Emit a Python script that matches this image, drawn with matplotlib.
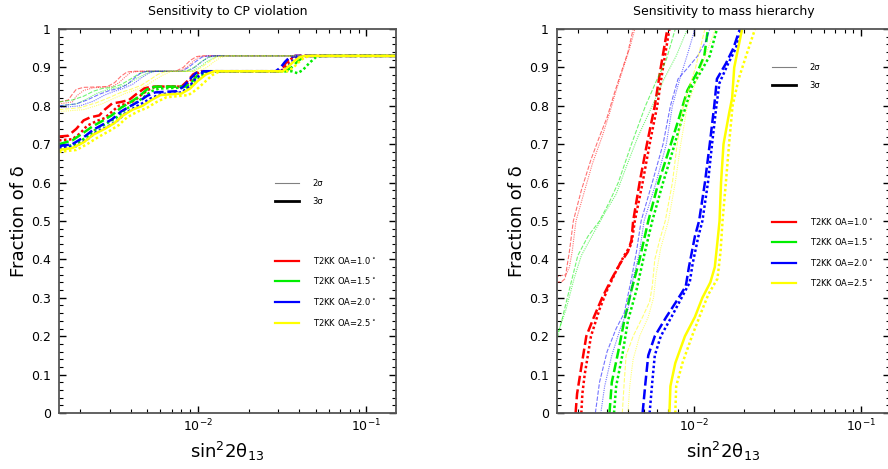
import matplotlib
matplotlib.use("Agg")
import matplotlib.pyplot as plt
from matplotlib.lines import Line2D
from matplotlib.ticker import LogLocator, MultipleLocator, FixedLocator, FixedFormatter

# ---- data: (sin^2 2theta13, fraction of delta) ----
# left panel: sensitivity to CP violation
cp_red_2s_a = [(0.0015, 0.81), (0.0017, 0.815), (0.0018, 0.83), (0.0019, 0.843), (0.0021, 0.848), (0.0029, 0.85), (0.0032, 0.86), (0.0035, 0.877), (0.0038, 0.888), (0.0042, 0.89), (0.0074, 0.89), (0.0082, 0.90), (0.0090, 0.918), (0.0098, 0.928), (0.0105, 0.93), (0.15, 0.93)]
cp_red_2s_b = [(0.0015, 0.805), (0.0018, 0.81), (0.0019, 0.825), (0.0021, 0.84), (0.0024, 0.847), (0.0031, 0.85), (0.0034, 0.86), (0.0037, 0.875), (0.0040, 0.887), (0.0045, 0.89), (0.0078, 0.89), (0.0086, 0.90), (0.0095, 0.918), (0.0103, 0.928), (0.011, 0.93), (0.15, 0.93)]
cp_green_2s_a = [(0.0015, 0.81), (0.0018, 0.815), (0.0021, 0.825), (0.0024, 0.838), (0.0027, 0.845), (0.0031, 0.848), (0.0035, 0.855), (0.0040, 0.87), (0.0045, 0.884), (0.0050, 0.89), (0.0085, 0.89), (0.0095, 0.90), (0.0105, 0.915), (0.0115, 0.926), (0.0125, 0.93), (0.15, 0.93)]
cp_green_2s_b = [(0.0015, 0.80), (0.0019, 0.805), (0.0022, 0.818), (0.0025, 0.832), (0.0029, 0.842), (0.0034, 0.848), (0.0038, 0.856), (0.0043, 0.87), (0.0049, 0.883), (0.0055, 0.89), (0.0092, 0.89), (0.0102, 0.90), (0.0113, 0.915), (0.0125, 0.926), (0.0135, 0.93), (0.15, 0.93)]
cp_blue_2s_a = [(0.0015, 0.80), (0.0019, 0.805), (0.0022, 0.815), (0.0026, 0.83), (0.0030, 0.84), (0.0034, 0.845), (0.0038, 0.855), (0.0042, 0.872), (0.0046, 0.886), (0.0050, 0.89), (0.0080, 0.89), (0.0088, 0.90), (0.0097, 0.915), (0.0106, 0.927), (0.0115, 0.93), (0.15, 0.93)]
cp_blue_2s_b = [(0.0015, 0.795), (0.0020, 0.80), (0.0024, 0.812), (0.0028, 0.828), (0.0032, 0.838), (0.0036, 0.845), (0.0041, 0.856), (0.0046, 0.872), (0.0051, 0.885), (0.0056, 0.89), (0.0087, 0.89), (0.0096, 0.90), (0.0106, 0.915), (0.0116, 0.927), (0.0126, 0.93), (0.15, 0.93)]
cp_yellow_2s_a = [(0.0015, 0.79), (0.0020, 0.795), (0.0025, 0.808), (0.0030, 0.822), (0.0035, 0.835), (0.0040, 0.843), (0.0046, 0.853), (0.0052, 0.868), (0.0058, 0.882), (0.0065, 0.89), (0.0095, 0.89), (0.0105, 0.90), (0.0117, 0.915), (0.0128, 0.926), (0.014, 0.93), (0.15, 0.93)]
cp_yellow_2s_b = [(0.0015, 0.785), (0.0021, 0.79), (0.0027, 0.805), (0.0032, 0.82), (0.0037, 0.832), (0.0043, 0.842), (0.0049, 0.852), (0.0055, 0.866), (0.0062, 0.88), (0.0070, 0.89), (0.0102, 0.89), (0.0113, 0.90), (0.0125, 0.915), (0.0137, 0.926), (0.0150, 0.93), (0.15, 0.93)]

cp_red_3s_a = [(0.0015, 0.72), (0.0017, 0.722), (0.0019, 0.74), (0.0021, 0.762), (0.0023, 0.77), (0.0026, 0.775), (0.0028, 0.79), (0.0031, 0.806), (0.0035, 0.81), (0.0039, 0.815), (0.0043, 0.83), (0.0048, 0.845), (0.0053, 0.85), (0.0080, 0.85), (0.0087, 0.865), (0.0094, 0.882), (0.0102, 0.89), (0.030, 0.89), (0.032, 0.90), (0.034, 0.918), (0.036, 0.928), (0.038, 0.93), (0.15, 0.93)]
cp_red_3s_b = [(0.0015, 0.71), (0.0018, 0.713), (0.0020, 0.728), (0.0022, 0.748), (0.0025, 0.76), (0.0028, 0.768), (0.0031, 0.785), (0.0034, 0.80), (0.0038, 0.806), (0.0042, 0.813), (0.0046, 0.828), (0.0051, 0.842), (0.0056, 0.85), (0.0082, 0.85), (0.0089, 0.862), (0.0096, 0.88), (0.0105, 0.89), (0.031, 0.89), (0.033, 0.90), (0.035, 0.918), (0.037, 0.928), (0.040, 0.93), (0.15, 0.93)]
cp_green_3s_a = [(0.0015, 0.70), (0.0018, 0.71), (0.0021, 0.73), (0.0024, 0.748), (0.0027, 0.76), (0.0031, 0.776), (0.0035, 0.795), (0.0040, 0.81), (0.0045, 0.825), (0.0050, 0.843), (0.0056, 0.85), (0.0085, 0.85), (0.0092, 0.862), (0.0100, 0.88), (0.0110, 0.89), (0.033, 0.89), (0.036, 0.90), (0.039, 0.915), (0.042, 0.926), (0.045, 0.93), (0.15, 0.93)]
cp_green_3s_b = [(0.0015, 0.69), (0.0019, 0.70), (0.0022, 0.72), (0.0025, 0.74), (0.0029, 0.755), (0.0033, 0.77), (0.0037, 0.79), (0.0042, 0.805), (0.0047, 0.82), (0.0053, 0.838), (0.0059, 0.845), (0.0088, 0.848), (0.0096, 0.86), (0.0105, 0.878), (0.0115, 0.89), (0.036, 0.89), (0.039, 0.885), (0.042, 0.893), (0.046, 0.912), (0.050, 0.926), (0.054, 0.93), (0.15, 0.93)]
cp_blue_3s_a = [(0.0015, 0.695), (0.0018, 0.70), (0.0021, 0.718), (0.0024, 0.738), (0.0027, 0.75), (0.0031, 0.765), (0.0035, 0.785), (0.0040, 0.80), (0.0045, 0.812), (0.0050, 0.826), (0.0056, 0.835), (0.0075, 0.838), (0.0082, 0.85), (0.0090, 0.87), (0.0098, 0.886), (0.0108, 0.89), (0.029, 0.89), (0.031, 0.90), (0.033, 0.915), (0.035, 0.926), (0.038, 0.93), (0.15, 0.93)]
cp_blue_3s_b = [(0.0015, 0.69), (0.0019, 0.695), (0.0022, 0.712), (0.0025, 0.732), (0.0029, 0.745), (0.0033, 0.76), (0.0037, 0.78), (0.0042, 0.795), (0.0047, 0.807), (0.0053, 0.82), (0.0060, 0.83), (0.0080, 0.835), (0.0088, 0.848), (0.0096, 0.868), (0.0105, 0.884), (0.0115, 0.89), (0.031, 0.89), (0.034, 0.90), (0.036, 0.915), (0.039, 0.926), (0.042, 0.93), (0.15, 0.93)]
cp_yellow_3s_a = [(0.0015, 0.685), (0.0018, 0.69), (0.0021, 0.705), (0.0024, 0.725), (0.0028, 0.74), (0.0032, 0.755), (0.0036, 0.775), (0.0041, 0.79), (0.0047, 0.80), (0.0053, 0.815), (0.0060, 0.828), (0.0080, 0.832), (0.0090, 0.845), (0.0100, 0.865), (0.0112, 0.882), (0.0125, 0.89), (0.032, 0.89), (0.034, 0.90), (0.037, 0.915), (0.040, 0.926), (0.043, 0.93), (0.15, 0.93)]
cp_yellow_3s_b = [(0.0015, 0.68), (0.0019, 0.685), (0.0022, 0.70), (0.0026, 0.72), (0.0030, 0.735), (0.0034, 0.75), (0.0038, 0.77), (0.0044, 0.785), (0.0050, 0.795), (0.0057, 0.81), (0.0065, 0.822), (0.0088, 0.828), (0.0098, 0.842), (0.0110, 0.862), (0.0122, 0.88), (0.0135, 0.89), (0.034, 0.89), (0.037, 0.90), (0.040, 0.915), (0.043, 0.926), (0.047, 0.93), (0.15, 0.93)]

# right panel: sensitivity to mass hierarchy
mh_red_2s_a = [(0.00147, 0.34), (0.0016, 0.342), (0.00168, 0.35), (0.00172, 0.38), (0.00178, 0.42), (0.00188, 0.50), (0.0021, 0.58), (0.0024, 0.66), (0.0027, 0.72), (0.0030, 0.77), (0.0033, 0.83), (0.0036, 0.88), (0.0040, 0.94), (0.0043, 1.0)]
mh_red_2s_b = [(0.00147, 0.355), (0.0017, 0.36), (0.00178, 0.38), (0.00185, 0.42), (0.00195, 0.50), (0.0022, 0.58), (0.00245, 0.65), (0.0028, 0.72), (0.0031, 0.78), (0.0034, 0.84), (0.0037, 0.89), (0.0041, 0.95), (0.0044, 1.0)]
mh_green_2s_a = [(0.00147, 0.18), (0.0016, 0.24), (0.0018, 0.33), (0.0020, 0.41), (0.0023, 0.46), (0.0027, 0.50), (0.0031, 0.55), (0.0035, 0.60), (0.0042, 0.70), (0.0051, 0.80), (0.0060, 0.87), (0.0068, 0.92), (0.0077, 1.0)]
mh_green_2s_b = [(0.00147, 0.19), (0.0017, 0.27), (0.0019, 0.35), (0.0021, 0.41), (0.0025, 0.47), (0.0029, 0.52), (0.0034, 0.57), (0.0039, 0.64), (0.0046, 0.72), (0.0056, 0.80), (0.0066, 0.87), (0.0078, 0.93), (0.0091, 1.0)]
mh_blue_2s_a = [(0.00255, 0.0), (0.0027, 0.08), (0.0030, 0.16), (0.0034, 0.22), (0.0038, 0.26), (0.0042, 0.35), (0.0045, 0.42), (0.0048, 0.50), (0.0056, 0.60), (0.0065, 0.70), (0.0072, 0.80), (0.0080, 0.87), (0.0092, 0.90), (0.0105, 0.93), (0.0118, 0.97), (0.0124, 1.0)]
mh_blue_2s_b = [(0.00275, 0.0), (0.0029, 0.07), (0.0032, 0.15), (0.0036, 0.22), (0.0040, 0.27), (0.0043, 0.35), (0.0047, 0.42), (0.0050, 0.50), (0.0059, 0.60), (0.0068, 0.70), (0.0074, 0.80), (0.0082, 0.87), (0.0092, 0.94), (0.0101, 1.0)]
mh_yellow_2s_a = [(0.0037, 0.0), (0.0038, 0.08), (0.0039, 0.15), (0.0043, 0.20), (0.0049, 0.25), (0.0054, 0.29), (0.0056, 0.33), (0.0058, 0.40), (0.0062, 0.45), (0.0067, 0.50), (0.0074, 0.60), (0.0079, 0.70), (0.0086, 0.80), (0.0102, 0.90), (0.0116, 1.0)]
mh_yellow_2s_b = [(0.0040, 0.0), (0.0041, 0.07), (0.0043, 0.14), (0.0047, 0.20), (0.0053, 0.25), (0.0057, 0.30), (0.0059, 0.36), (0.0063, 0.43), (0.0070, 0.50), (0.0077, 0.60), (0.0083, 0.70), (0.0091, 0.80), (0.0110, 0.90), (0.0134, 1.0)]

mh_red_3s_a = [(0.00194, 0.0), (0.00198, 0.05), (0.0021, 0.12), (0.00225, 0.20), (0.0025, 0.25), (0.0028, 0.30), (0.0032, 0.35), (0.0036, 0.39), (0.0040, 0.42), (0.0042, 0.45), (0.0043, 0.50), (0.0047, 0.60), (0.0052, 0.70), (0.0058, 0.80), (0.0063, 0.90), (0.0069, 1.0)]
mh_red_3s_b = [(0.0021, 0.0), (0.00213, 0.05), (0.0022, 0.10), (0.0024, 0.20), (0.0027, 0.27), (0.0030, 0.32), (0.0034, 0.37), (0.0038, 0.41), (0.0042, 0.44), (0.0044, 0.50), (0.0049, 0.60), (0.0054, 0.70), (0.0060, 0.80), (0.0065, 0.90), (0.0071, 1.0)]
mh_green_3s_a = [(0.0031, 0.0), (0.0032, 0.08), (0.0035, 0.16), (0.0038, 0.24), (0.0042, 0.32), (0.0047, 0.40), (0.0053, 0.50), (0.0061, 0.60), (0.0070, 0.68), (0.0080, 0.76), (0.0091, 0.84), (0.0105, 0.89), (0.0115, 0.93), (0.0121, 1.0)]
mh_green_3s_b = [(0.0033, 0.0), (0.0034, 0.07), (0.0037, 0.15), (0.0040, 0.24), (0.0045, 0.32), (0.0050, 0.41), (0.0056, 0.50), (0.0065, 0.60), (0.0074, 0.68), (0.0085, 0.77), (0.0097, 0.85), (0.0110, 0.89), (0.0124, 0.93), (0.0137, 1.0)]
mh_blue_3s_a = [(0.0049, 0.0), (0.0051, 0.08), (0.0053, 0.15), (0.0058, 0.20), (0.0068, 0.25), (0.0078, 0.29), (0.0089, 0.33), (0.0093, 0.38), (0.0101, 0.46), (0.0107, 0.50), (0.0116, 0.60), (0.0124, 0.70), (0.0132, 0.80), (0.0137, 0.87), (0.0155, 0.91), (0.0172, 0.95), (0.0188, 1.0)]
mh_blue_3s_b = [(0.0054, 0.0), (0.0056, 0.08), (0.0058, 0.15), (0.0063, 0.20), (0.0073, 0.25), (0.0084, 0.30), (0.0094, 0.34), (0.0098, 0.39), (0.0106, 0.46), (0.0112, 0.50), (0.0121, 0.60), (0.0128, 0.70), (0.0136, 0.80), (0.0142, 0.86), (0.0160, 0.91), (0.0178, 0.95), (0.0193, 1.0)]
mh_yellow_3s_a = [(0.0071, 0.0), (0.0072, 0.07), (0.0077, 0.13), (0.0088, 0.20), (0.0101, 0.25), (0.0112, 0.30), (0.0125, 0.34), (0.0133, 0.38), (0.0139, 0.46), (0.0142, 0.50), (0.0145, 0.60), (0.0150, 0.70), (0.0162, 0.78), (0.0169, 0.82), (0.0174, 0.90), (0.0194, 1.0)]
mh_yellow_3s_b = [(0.0077, 0.0), (0.0078, 0.07), (0.0085, 0.13), (0.0097, 0.20), (0.0112, 0.27), (0.0122, 0.31), (0.0138, 0.35), (0.0144, 0.42), (0.0148, 0.50), (0.0155, 0.60), (0.0162, 0.70), (0.0170, 0.80), (0.0185, 0.87), (0.0205, 0.93), (0.0232, 1.0)]

oa_labels = ["T2KK OA=1.0$^\\circ$", "T2KK OA=1.5$^\\circ$", "T2KK OA=2.0$^\\circ$", "T2KK OA=2.5$^\\circ$"]
oa_colors = ["#ff0000", "#00ee00", "#0000ff", "#ffff00"]
sigma_labels = ["2\u03c3", "3\u03c3"]
y_ticks = [0, 0.1, 0.2, 0.3, 0.4, 0.5, 0.6, 0.7, 0.8, 0.9, 1]
y_tick_labels = ["0", "0.1", "0.2", "0.3", "0.4", "0.5", "0.6", "0.7", "0.8", "0.9", "1"]
titles = ["Sensitivity to CP violation", "Sensitivity to mass hierarchy"]

plt.rcParams["font.family"] = ["DejaVu Sans"]
plt.rcParams["mathtext.default"] = "regular"

fig = plt.figure(figsize=(8.88, 4.69), dpi=100)
ax1 = fig.add_axes([59 / 888, 1 - 413 / 469, 337 / 888, 384 / 469])
ax2 = fig.add_axes([557 / 888, 1 - 413 / 469, 333 / 888, 384 / 469])

cp_curves = [
    (cp_red_2s_a, cp_red_2s_b, cp_red_3s_a, cp_red_3s_b),
    (cp_green_2s_a, cp_green_2s_b, cp_green_3s_a, cp_green_3s_b),
    (cp_blue_2s_a, cp_blue_2s_b, cp_blue_3s_a, cp_blue_3s_b),
    (cp_yellow_2s_a, cp_yellow_2s_b, cp_yellow_3s_a, cp_yellow_3s_b),
]
mh_curves = [
    (mh_red_2s_a, mh_red_2s_b, mh_red_3s_a, mh_red_3s_b),
    (mh_green_2s_a, mh_green_2s_b, mh_green_3s_a, mh_green_3s_b),
    (mh_blue_2s_a, mh_blue_2s_b, mh_blue_3s_a, mh_blue_3s_b),
    (mh_yellow_2s_a, mh_yellow_2s_b, mh_yellow_3s_a, mh_yellow_3s_b),
]

dash = (0, (4, 1.5))
dot = (0, (1, 1))


def draw(ax, curves):
    for i, (a2, b2, a3, b3) in enumerate(curves):
        c = oa_colors[i]
        for pts, ls in [(a2, dash), (b2, dot)]:
            ax.plot([p[0] for p in pts], [p[1] for p in pts], color=c, lw=0.8,
                    ls=ls, alpha=0.55)
        solid = "-" if i == 3 else dash
        for pts, ls in [(a3, solid), (b3, dot)]:
            ax.plot([p[0] for p in pts], [p[1] for p in pts], color=c, lw=1.8,
                    ls=ls)


def style(ax, title):
    ax.set_xscale("log")
    ax.set_xlim(0.0015, 0.15)
    ax.set_ylim(0, 1)
    ax.xaxis.set_major_locator(FixedLocator([0.01, 0.1]))
    ax.xaxis.set_major_formatter(FixedFormatter(["$10^{-2}$", "$10^{-1}$"]))
    ax.xaxis.set_minor_locator(LogLocator(base=10, subs=range(2, 10)))
    ax.xaxis.set_minor_formatter(FixedFormatter([]))
    ax.yaxis.set_major_locator(FixedLocator(y_ticks))
    ax.yaxis.set_major_formatter(FixedFormatter(y_tick_labels))
    ax.yaxis.set_minor_locator(MultipleLocator(0.02))
    ax.tick_params(which="both", direction="in", top=True, right=True,
                   labelsize=9, color="black")
    ax.tick_params(which="major", length=5, width=1)
    ax.tick_params(which="minor", length=3, width=0.8)
    ax.tick_params(axis="y", pad=6)
    for s in ax.spines.values():
        s.set_color("#555555")
        s.set_linewidth(1.3)
    ax.set_title(title, fontsize=9, pad=10)
    ax.set_xlabel("sin$^{2}$2\u03b8$_{13}$", fontsize=13, labelpad=4)
    ax.set_ylabel("Fraction of \u03b4", fontsize=13, labelpad=2)


def legends(ax, sig_anchor, oa_anchor):
    sig_handles = [Line2D([], [], color="gray", lw=0.8),
                   Line2D([], [], color="black", lw=2)]
    oa_handles = [Line2D([], [], color=c, lw=1.6) for c in oa_colors]
    common = dict(frameon=False, fontsize=6, handlelength=2.9, handletextpad=1.6,
                  labelspacing=1.15, borderpad=0, borderaxespad=0, loc="upper left")
    leg1 = ax.legend(sig_handles, sigma_labels, bbox_to_anchor=sig_anchor, **common)
    ax.add_artist(leg1)
    ax.legend(oa_handles, oa_labels, bbox_to_anchor=oa_anchor, **common)


draw(ax1, cp_curves)
draw(ax2, mh_curves)
style(ax1, titles[0])
style(ax2, titles[1])
legends(ax1, (0.641, 0.61), (0.641, 0.412))
legends(ax2, (0.646, 0.912), (0.646, 0.514))

fig.savefig("out.png", dpi=100)
